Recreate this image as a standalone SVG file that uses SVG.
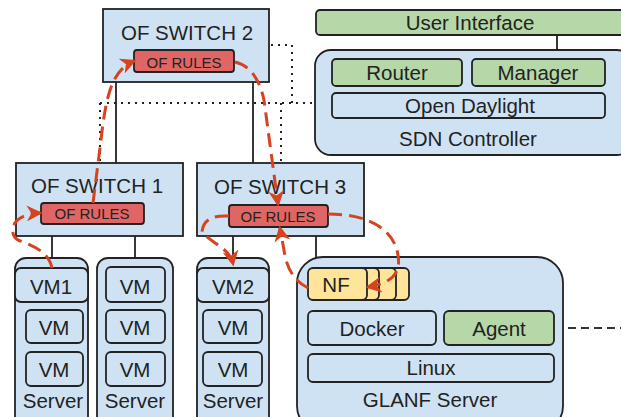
<svg xmlns="http://www.w3.org/2000/svg" width="621" height="417" viewBox="0 0 621 417">
  <defs>
    <style>
      .box { stroke: #222; stroke-width: 1.8; }
      .blue { fill: #cfe2f3; }
      .green { fill: #b6d7a8; }
      .red { fill: #e06666; }
      .yellow { fill: #ffe599; }
      .link { stroke: #222; stroke-width: 1.8; fill: none; }
      .dotted { stroke: #222; stroke-width: 2; fill: none; stroke-dasharray: 2 5; }
      .dashed { stroke: #333; stroke-width: 2; fill: none; stroke-dasharray: 8 5; }
      .flow { stroke: #d6431f; stroke-width: 3; fill: none; stroke-dasharray: 14 7; }
      text { font-family: "Liberation Sans", Arial, sans-serif; fill: #222; text-anchor: middle; }
      .big { font-size: 20.5px; }
      .small { font-size: 15px; }
    </style>
    <marker id="arrow" viewBox="0 0 12 12" refX="10" refY="6" markerWidth="16" markerHeight="16" markerUnits="userSpaceOnUse" orient="auto">
      <path d="M0,0 L12,6 L0,12 L3.5,6 z" fill="#d6431f"/>
    </marker>
  </defs>

  <!-- links between switches, servers and controller -->
  <g id="connectors">
    <line class="link" x1="116" y1="82" x2="116" y2="163"/>
    <line class="link" x1="253" y1="82" x2="253" y2="163"/>
    <line class="link" x1="52" y1="236" x2="52" y2="258"/>
    <line class="link" x1="135" y1="236" x2="135" y2="258"/>
    <line class="link" x1="233" y1="236" x2="233" y2="258"/>
    <line class="link" x1="316" y1="236" x2="316" y2="258"/>
    <line class="link" x1="557" y1="35" x2="557" y2="59"/>
    <!-- control channel (dotted) -->
    <polyline class="dotted" points="271,45 292,45 292,103"/>
    <line class="dotted" x1="100" y1="103" x2="314" y2="103"/>
    <line class="dotted" x1="100" y1="103" x2="100" y2="162"/>
    <line class="dotted" x1="281" y1="103" x2="281" y2="162"/>
    <!-- management channel (dashed) -->
    <line class="dashed" x1="555" y1="328" x2="621" y2="328"/>
    <line class="dashed" x1="611" y1="72" x2="619" y2="72"/>
  </g>

  <g id="user-interface">
    <rect class="box green" x="316" y="10" width="312" height="25" rx="4"/>
    <text class="big" x="470" y="30">User Interface</text>
  </g>

  <g id="sdn-controller">
    <rect class="box blue" x="315" y="50" width="318" height="105" rx="16"/>
    <rect class="box green" x="332" y="59" width="130" height="27" rx="4"/>
    <text class="big" x="397" y="80">Router</text>
    <rect class="box green" x="472" y="59" width="133" height="27" rx="4"/>
    <text class="big" x="538" y="80">Manager</text>
    <rect class="box blue" x="332" y="93" width="273" height="25" rx="4"/>
    <text class="big" x="470" y="113">Open Daylight</text>
    <text class="big" x="468" y="146">SDN Controller</text>
  </g>

  <g id="of-switch-2">
    <rect class="box blue" x="103" y="9" width="166" height="73"/>
    <text class="big" x="187" y="40">OF SWITCH 2</text>
    <rect class="box red" x="134" y="50" width="100" height="22" rx="3"/>
    <text class="small" x="184" y="67.5">OF RULES</text>
  </g>

  <g id="of-switch-1">
    <rect class="box blue" x="16" y="163" width="167" height="73"/>
    <text class="big" x="97" y="193">OF SWITCH 1</text>
    <rect class="box red" x="41" y="203" width="103" height="21" rx="3"/>
    <text class="small" x="92" y="219">OF RULES</text>
  </g>

  <g id="of-switch-3">
    <rect class="box blue" x="197" y="163" width="167" height="73"/>
    <text class="big" x="280" y="194">OF SWITCH 3</text>
    <rect class="box red" x="229" y="205" width="99" height="22" rx="3"/>
    <text class="small" x="278" y="221.5">OF RULES</text>
  </g>

  <g id="server-1">
    <rect class="box blue" x="15" y="258" width="73" height="170" rx="11"/>
    <rect class="box blue" x="15" y="268" width="73" height="34" rx="6"/>
    <text class="big" x="51" y="294">VM1</text>
    <rect class="box blue" x="26" y="310" width="57" height="33" rx="5"/>
    <text class="big" x="54" y="335">VM</text>
    <rect class="box blue" x="26" y="352" width="57" height="34" rx="5"/>
    <text class="big" x="54" y="377">VM</text>
    <text class="big" x="53" y="408">Server</text>
  </g>

  <g id="server-2">
    <rect class="box blue" x="97" y="258" width="76" height="170" rx="11"/>
    <rect class="box blue" x="106" y="267" width="59" height="35" rx="5"/>
    <text class="big" x="135" y="294">VM</text>
    <rect class="box blue" x="106" y="310" width="59" height="33" rx="5"/>
    <text class="big" x="135" y="335">VM</text>
    <rect class="box blue" x="106" y="352" width="59" height="34" rx="5"/>
    <text class="big" x="135" y="377">VM</text>
    <text class="big" x="135" y="408">Server</text>
  </g>

  <g id="server-3">
    <rect class="box blue" x="197" y="258" width="72" height="170" rx="11"/>
    <rect class="box blue" x="197" y="268" width="72" height="34" rx="6"/>
    <text class="big" x="233" y="294">VM2</text>
    <rect class="box blue" x="203" y="310" width="59" height="33" rx="5"/>
    <text class="big" x="233" y="335">VM</text>
    <rect class="box blue" x="203" y="352" width="59" height="34" rx="5"/>
    <text class="big" x="233" y="377">VM</text>
    <text class="big" x="233" y="408">Server</text>
  </g>

  <g id="glanf-server">
    <rect class="box blue" x="297" y="257" width="266" height="175" rx="26"/>
    <rect class="box yellow" x="350" y="268" width="59" height="32" rx="5"/>
    <rect class="box yellow" x="337" y="268" width="59" height="32" rx="5"/>
    <rect class="box yellow" x="320" y="268" width="59" height="32" rx="5"/>
    <rect class="box yellow" x="308" y="268" width="59" height="32" rx="5"/>
    <text class="big" x="336" y="292">NF</text>
    <rect class="box blue" x="308" y="311" width="128" height="34" rx="5"/>
    <text class="big" x="372" y="336">Docker</text>
    <rect class="box green" x="444" y="311" width="110" height="34" rx="5"/>
    <text class="big" x="499" y="336">Agent</text>
    <rect class="box blue" x="308" y="354" width="246" height="28" rx="5"/>
    <text class="big" x="431" y="375">Linux</text>
    <text class="big" x="430" y="407">GLANF Server</text>
  </g>

  <!-- packet path through the rules -->
  <g id="flow-path">
    <path class="flow" marker-end="url(#arrow)" d="M52,268 C48,250 30,245 18,240 C8,234 10,214 40,213"/>
    <path class="flow" marker-end="url(#arrow)" d="M93,203 L101,140 C106,95 112,70 134,61"/>
    <path class="flow" marker-end="url(#arrow)" d="M235,62 C252,66 260,82 264,100 L278,204"/>
    <path class="flow" marker-end="url(#arrow)" d="M229,216 C212,215 203,220 202,232 C212,244 230,248 233,264"/>
    <path class="flow" marker-end="url(#arrow)" d="M328,214 C370,214 394,230 398,255 C402,278 385,284 368,287"/>
    <path class="flow" marker-end="url(#arrow)" d="M308,288 C292,280 286,265 284,250 L280,228"/>
  </g>
</svg>
